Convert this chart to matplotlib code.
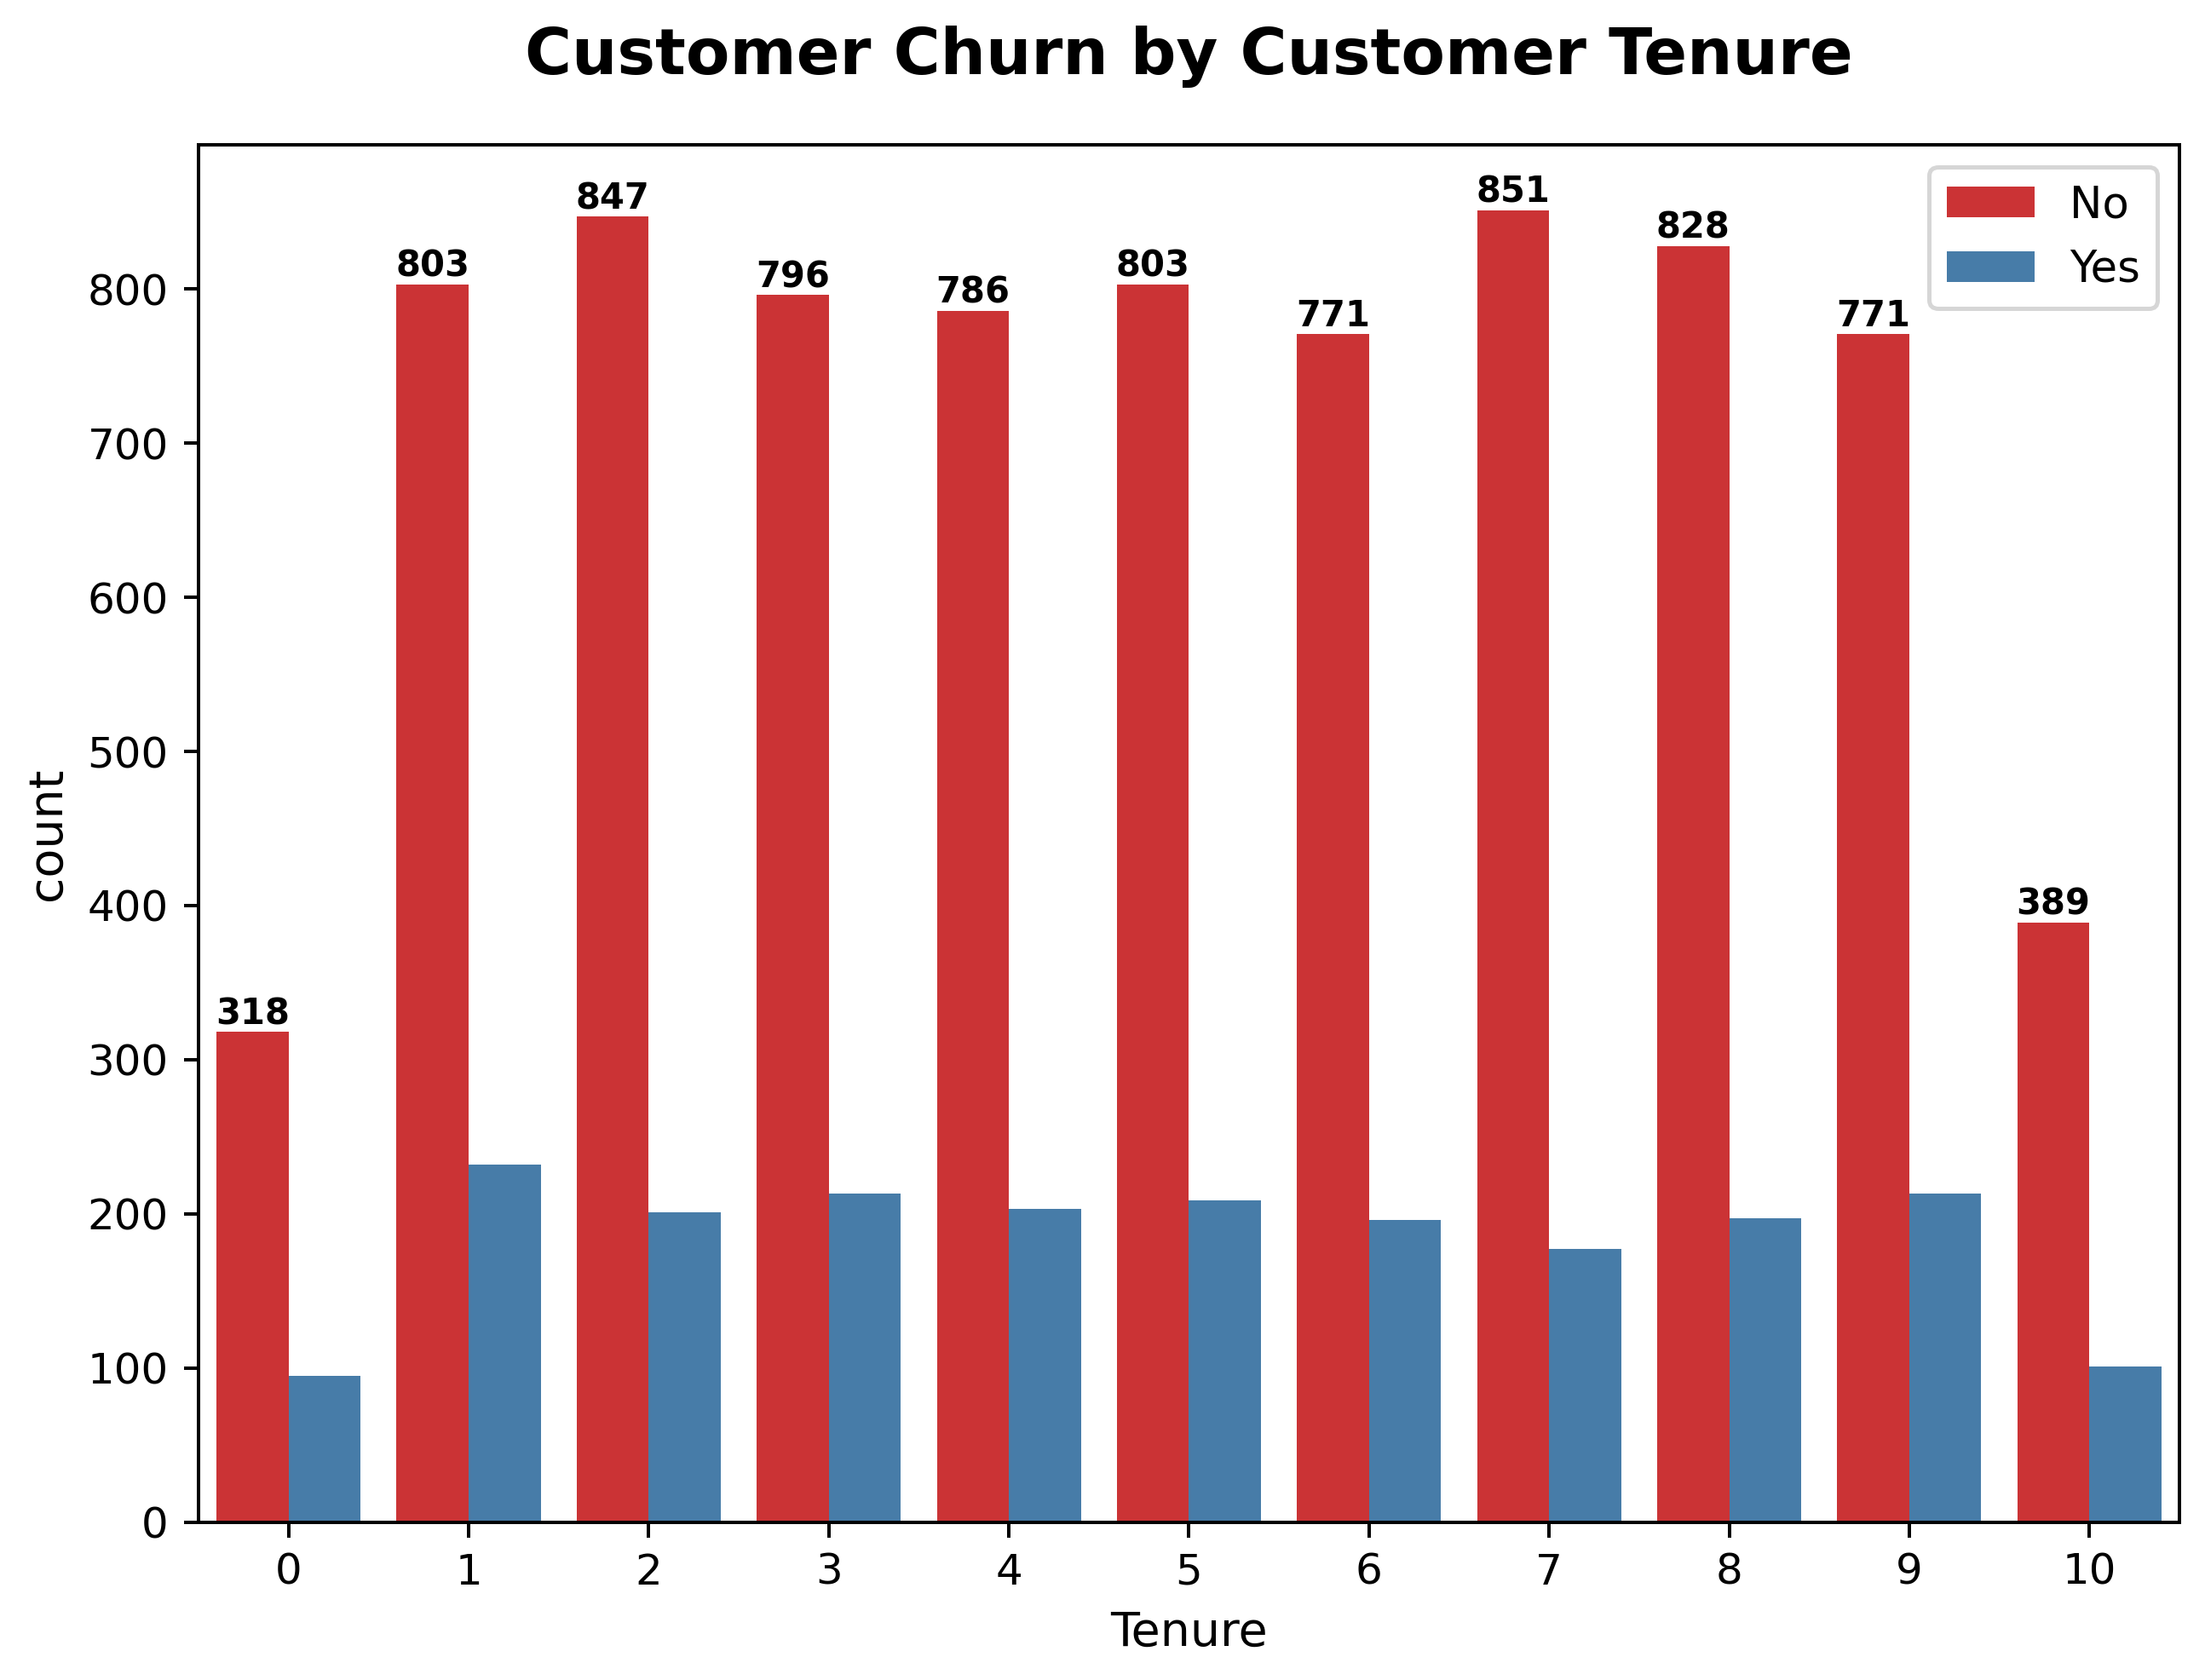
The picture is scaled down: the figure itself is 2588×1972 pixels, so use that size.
import matplotlib
matplotlib.use("Agg")
import matplotlib.pyplot as plt
import numpy as np
import seaborn as sns

tenure = [0, 1, 2, 3, 4, 5, 6, 7, 8, 9, 10]
churn_no = [318, 803, 847, 796, 786, 803, 771, 851, 828, 771, 389]
churn_yes = [95, 232, 201, 213, 203, 209, 196, 177, 197, 213, 101]
series_labels = ["No", "Yes"]

k = 1.8
plt.rcParams.update({
    "axes.linewidth": 0.8 * k,
    "xtick.major.width": 0.8 * k,
    "ytick.major.width": 0.8 * k,
    "xtick.major.size": 3.5 * k,
    "ytick.major.size": 3.5 * k,
    "xtick.major.pad": 3.5 * k,
    "ytick.major.pad": 3.5 * k,
    "axes.labelpad": 4.0 * k,
    "patch.linewidth": 1.0 * k,
})

pal = sns.color_palette("Set1", 2)
colors = [sns.desaturate(c, 0.75) for c in pal]

fig = plt.figure(figsize=(12.94, 9.86), dpi=200)
ax = fig.add_axes([0.0900, 0.0940, 0.8984, 0.8198])

x = np.arange(len(tenure))
w = 0.4
b_no = ax.bar(x - w / 2, churn_no, width=w, color=colors[0], label=series_labels[0], linewidth=0)
b_yes = ax.bar(x + w / 2, churn_yes, width=w, color=colors[1], label=series_labels[1], linewidth=0)

ax.bar_label(b_no, fontsize=15, fontweight="bold")

ax.set_xlim(-0.5, len(tenure) - 0.5)
ax.set_xticks(x)
ax.set_xticklabels([str(t) for t in tenure])
ax.tick_params(labelsize=18)
ax.set_xlabel("Tenure", fontsize=20)
ax.set_ylabel("count", fontsize=20)
ax.set_title("Customer Churn by Customer Tenure", fontsize=27, fontweight="bold", pad=30)
leg = ax.legend(fontsize=18.5, loc="upper right")
leg.get_frame().set_linewidth(1.0 * k)

fig.savefig("out.png", dpi=200)
